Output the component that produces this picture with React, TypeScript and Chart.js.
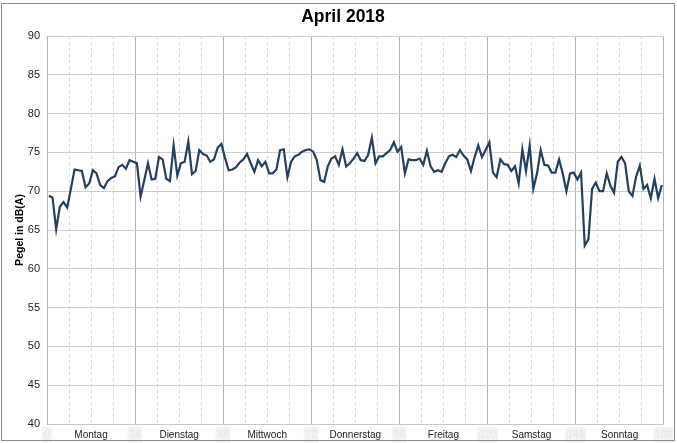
import React, { useEffect, useRef } from 'react';
import { Chart, registerables } from 'chart.js';

Chart.register(...registerables);

const chartTitle = 'April 2018';
const yAxisTitle = 'Pegel in dB(A)';
const dayNames = ['Montag', 'Dienstag', 'Mittwoch', 'Donnerstag', 'Freitag', 'Samstag', 'Sonntag'];
const hourTicks = [0, 24, 48, 72, 96, 120, 144, 168];
const yMin = 40;
const yMax = 90;
const yStep = 5;

// hourly sound levels, dB(A)
const montag = [69.4, 69.2, 65.1, 68.0, 68.6, 67.9, 70.3, 72.8, 72.7, 72.6, 70.5, 71.0, 72.7, 72.3, 70.8, 70.4, 71.3, 71.7, 71.9, 73.1, 73.4, 72.9, 74.0, 73.8];
const dienstag = [73.6, 69.3, 71.4, 73.6, 71.5, 71.6, 74.4, 74.1, 71.6, 71.3, 75.9, 72.0, 73.6, 73.8, 76.4, 72.2, 72.6, 75.3, 74.8, 74.6, 73.8, 74.1, 75.6, 76.1];
const mittwoch = [74.3, 72.7, 72.8, 73.1, 73.7, 74.1, 74.8, 73.6, 72.5, 74.0, 73.2, 73.8, 72.3, 72.3, 72.8, 75.3, 75.4, 71.8, 73.8, 74.5, 74.7, 75.1, 75.3, 75.4];
const donnerstag = [75.1, 74.0, 71.4, 71.2, 73.2, 74.2, 74.5, 73.4, 75.4, 73.2, 73.6, 74.2, 74.9, 74.0, 73.9, 74.7, 76.9, 73.6, 74.5, 74.5, 74.9, 75.3, 76.3, 75.1];
const freitag = [75.7, 72.3, 74.1, 74.0, 74.0, 74.2, 73.4, 75.2, 73.2, 72.5, 72.7, 72.5, 73.6, 74.5, 74.7, 74.4, 75.3, 74.6, 74.1, 72.6, 74.4, 75.9, 74.4, 75.3];
const samstag = [76.3, 72.4, 71.8, 74.1, 73.5, 73.4, 72.6, 73.2, 71.0, 75.4, 72.6, 75.9, 70.3, 72.3, 75.3, 73.4, 73.3, 72.4, 72.4, 74.1, 72.3, 70.0, 72.3, 72.4];
const sonntag = [71.5, 72.4, 63.0, 63.8, 70.3, 71.1, 70.0, 70.0, 72.3, 70.7, 69.8, 73.8, 74.4, 73.6, 70.0, 69.4, 71.9, 73.3, 70.3, 70.8, 69.1, 71.6, 69.1, 70.8];

const levels = [...montag, ...dienstag, ...mittwoch, ...donnerstag, ...freitag, ...samstag, ...sonntag];

const FONT = "'Liberation Sans', Arial, sans-serif";

export default function App() {
  const canvasRef = useRef<HTMLCanvasElement | null>(null);

  useEffect(() => {
    const canvas = canvasRef.current;
    if (!canvas) return;
    const isMajor = (v: number) => hourTicks.includes(v);
    const isDay = (v: number) => v % 24 === 12;
    const chart = new Chart(canvas, {
      type: 'line',
      data: {
        datasets: [
          {
            data: levels.map((v, i) => ({ x: i + 0.5, y: v })),
            borderColor: '#243f60',
            borderWidth: 2.2,
            pointRadius: 0,
            tension: 0,
            fill: false,
          },
        ],
      },
      options: {
        responsive: false,
        animation: false,
        devicePixelRatio: 1,
        layout: { padding: { left: 20, right: 11, top: 2, bottom: 0 } },
        plugins: {
          legend: { display: false },
          tooltip: { enabled: false },
          title: {
            display: true,
            text: chartTitle,
            color: '#000',
            font: { family: FONT, size: 17.5, weight: 'bold' },
            padding: { top: 5, bottom: 8 },
          },
        },
        scales: {
          x: {
            type: 'linear',
            min: 0,
            max: 168,
            afterFit: (scale: any) => {
              scale.height = 19;
            },
            ticks: {
              stepSize: 6,
              autoSkip: false,
              maxRotation: 0,
              minRotation: 0,
              padding: 5,
              font: { family: FONT, size: 10 },
              color: (ctx: any) => (ctx.tick && isDay(ctx.tick.value) ? '#222' : '#e4e4e4'),
              showLabelBackdrop: true,
              backdropColor: (ctx: any) => (ctx.tick && isMajor(ctx.tick.value) ? '#f3f3f3' : 'rgba(0,0,0,0)'),
              backdropPadding: 2,
              callback: (value: any) => {
                const v = Number(value);
                if (isMajor(v)) return String(v);
                if (isDay(v)) return dayNames[(v - 12) / 24];
                return '';
              },
            },
            grid: {
              drawTicks: false,
              color: (ctx: any) => (ctx.tick && isMajor(ctx.tick.value) ? '#b4b4b4' : '#d6d6d6'),
              lineWidth: 1,
            },
            border: {
              display: true,
              color: '#c8c8c8',
              dash: (ctx: any) => (ctx.tick && !isMajor(ctx.tick.value) ? [3, 3] : []),
            },
          },
          y: {
            min: yMin,
            max: yMax,
            afterFit: (scale: any) => {
              scale.width = 27;
            },
            ticks: {
              stepSize: yStep,
              padding: 7,
              color: '#222',
              font: { family: FONT, size: 11 },
            },
            title: {
              display: true,
              text: yAxisTitle,
              color: '#000',
              font: { family: FONT, size: 10.5, weight: 'bold' },
              padding: { top: -6.3, bottom: 0 },
            },
            grid: {
              drawTicks: false,
              color: '#cdcdcd',
              lineWidth: 1,
            },
            border: { display: true, color: '#b4b4b4' },
          },
        },
      },
    });
    return () => chart.destroy();
  }, []);

  return (
    <div style={{ position: 'fixed', left: 0, top: 0, width: 677, height: 443, background: '#fff' }}>
      <canvas ref={canvasRef} width={677} height={443} style={{ position: 'absolute', left: 0, top: 0 }} />
      <div
        style={{
          position: 'absolute',
          left: 1,
          top: 3,
          width: 674,
          height: 438,
          border: '1px solid #8c8c8c',
          boxSizing: 'border-box',
          pointerEvents: 'none',
        }}
      />
    </div>
  );
}
